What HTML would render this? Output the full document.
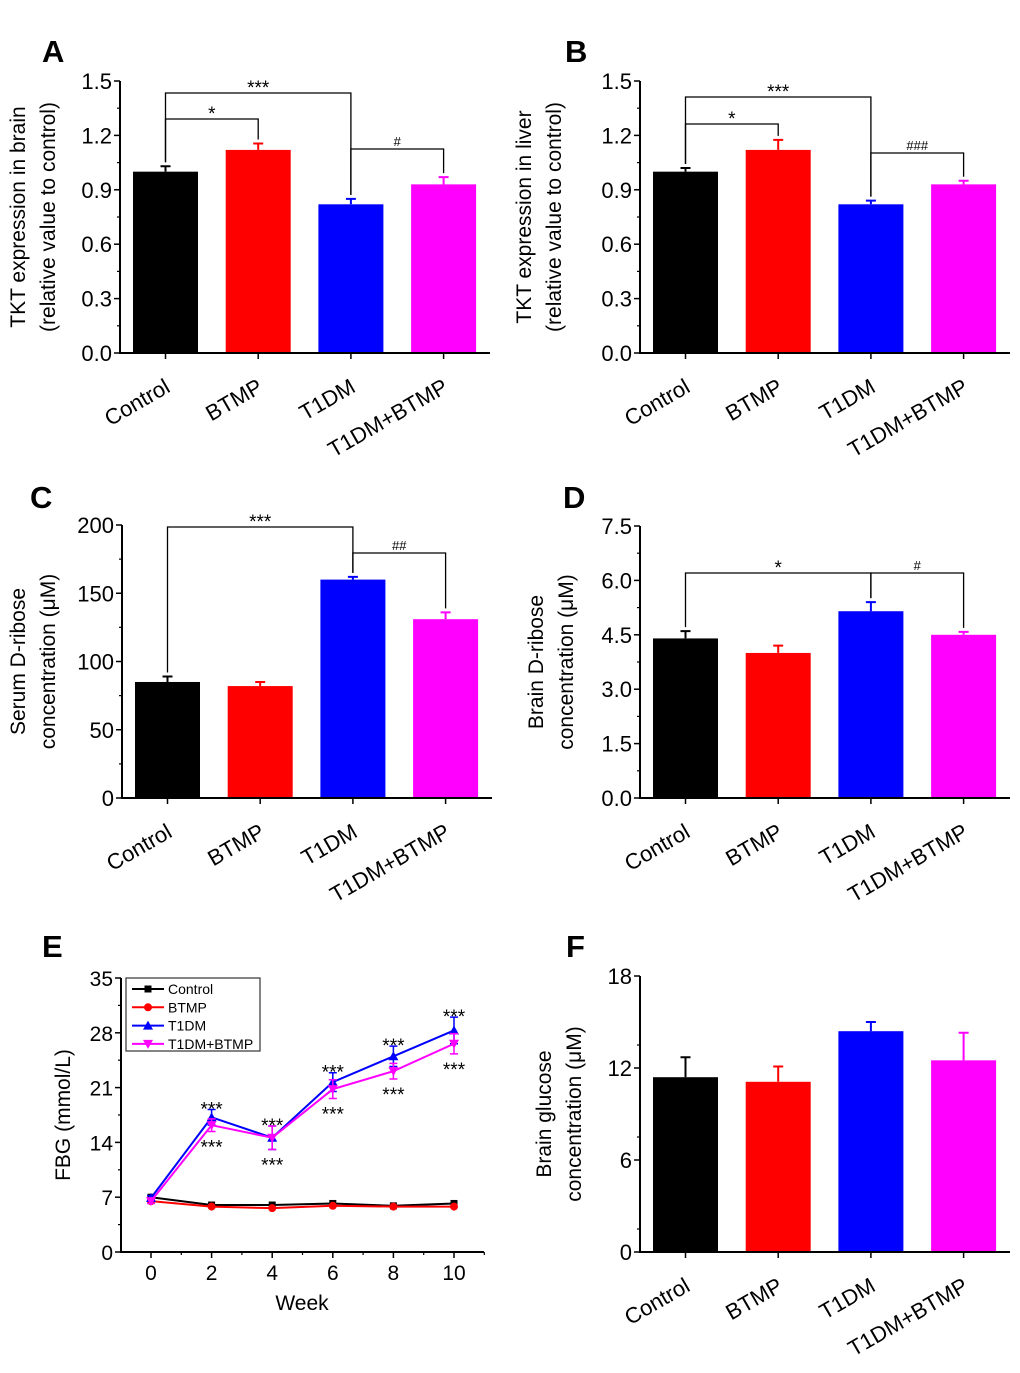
<!DOCTYPE html>
<html><head><meta charset="utf-8"><style>
html,body{margin:0;padding:0;background:#fff}
svg text{font-family:"Liberation Sans",Arial,sans-serif}
</style></head><body>
<svg id="fig" width="1020" height="1368" viewBox="0 0 1020 1368" xmlns="http://www.w3.org/2000/svg"></svg>
<script>
const categories=["Control","BTMP","T1DM","T1DM+BTMP"];
const colors=["#000000","#ff0000","#0000ff","#ff00ff"];
const aVals=[1.0,1.12,0.82,0.93], aErr=[0.03,0.035,0.03,0.04];
const bVals=[1.0,1.12,0.82,0.93], bErr=[0.02,0.055,0.02,0.02];
const cVals=[85,82,160,131], cErr=[4,3,2,5];
const dVals=[4.4,4.0,5.15,4.5], dErr=[0.2,0.2,0.25,0.08];
const fVals=[11.4,11.1,14.4,12.5], fErr=[1.3,1.0,0.6,1.8];
const aTicks=["0.0","0.3","0.6","0.9","1.2","1.5"];
const cTicks=["0","50","100","150","200"];
const dTicks=["0.0","1.5","3.0","4.5","6.0","7.5"];
const fTicks=["0","6","12","18"];
const weeks=[0,2,4,6,8,10];
const eControl=[7.0,6.0,6.0,6.2,5.9,6.2];
const eBTMP=[6.5,5.8,5.6,5.9,5.8,5.8];
const eT1DM=[6.9,17.2,14.6,21.7,25.0,28.3];
const eT1DMerr=[0.3,1.0,1.5,1.2,1.3,1.7];
const eCombo=[6.5,16.2,14.6,20.8,23.1,26.6];
const eComboErr=[0.3,0.8,1.5,1.2,1.0,1.3];
const eTicks=["0","7","14","21","28","35"];
const weekTicks=["0","2","4","6","8","10"];

const svg=document.getElementById('fig');
const NS="http://www.w3.org/2000/svg";
function mk(tag,attrs,parent,txt){const e=document.createElementNS(NS,tag);for(const k in attrs)e.setAttribute(k,attrs[k]);if(txt!==undefined)e.textContent=txt;(parent||svg).appendChild(e);return e;}

function letter(t,x,y){const e=mk('text',{x:x,y:y,'font-size':31,'font-weight':'bold'},svg,t);

}

function barPanel(o){
  const g=mk('g',{});
  
  
  const ys=v=>o.y0-(v/o.max)*(o.y0-o.yTop);
  const xs=i=>o.x0+45.5+i*92.7;
  o.vals.forEach((v,i)=>{
    const b=mk('rect',{x:xs(i)-32.5,y:ys(v),width:65,height:o.y0-ys(v),fill:colors[i]},g);
    
    
    const e=mk('path',{d:`M${xs(i)} ${ys(v)}V${ys(v+o.err[i])}M${xs(i)-5} ${ys(v+o.err[i])}H${xs(i)+5}`,stroke:colors[i],'stroke-width':2,fill:'none'},g);
    
    
  });
  const ax=mk('path',{d:`M${o.x0} ${o.yTop}V${o.y0}H${o.x0+370}`,stroke:'#000','stroke-width':2,fill:'none'},g);
  
  
  o.ticks.forEach((t,i)=>{
    const v=parseFloat(t), y=ys(v);
    mk('path',{d:`M${o.x0} ${y}H${o.x0-6}`,stroke:'#000','stroke-width':1.5},g);
    if(i<o.ticks.length-1){const ym=ys(v+o.step/2);mk('path',{d:`M${o.x0} ${ym}H${o.x0-3}`,stroke:'#000','stroke-width':1.2},g);}
    const tl=mk('text',{x:o.x0-8,y:y+8,'font-size':22,'text-anchor':'end'},g,t);
    
    
  });
  categories.forEach((c,i)=>{
    mk('path',{d:`M${xs(i)} ${o.y0}V${o.y0+6}`,stroke:'#000','stroke-width':1.5},g);
    const t=mk('text',{x:xs(i)+6,y:o.y0+38,'font-size':22,'text-anchor':'end',transform:`rotate(-30 ${xs(i)+6} ${o.y0+38})`},g,c);
    
    
  });
  o.title.forEach((l,k)=>{
    const x=o.titleX+k*30, y=(o.yTop+o.y0)/2;
    const t=mk('text',{x:x,y:y,'font-size':21,'text-anchor':'middle',transform:`rotate(-90 ${x} ${y})`},g,l);
    
    
  });
  (o.brackets||[]).forEach(br=>{
    const [i,j,y,lab]=br;
    const x1=xs(i),x2=xs(j);
    const p=mk('path',{d:`M${x1} ${ys(o.vals[i]+o.err[i])-4}V${y}H${x2}V${ys(o.vals[j]+o.err[j])-4}`,stroke:'#000','stroke-width':1.3,fill:'none'},g);
    
    
    const t=mk('text',{x:(x1+x2)/2,y:lab[0]=='#'?y-3:y+1,'font-size':lab[0]=='#'?13:19,'text-anchor':'middle'},g,lab);
    
    
  });
}

letter('A',42,62);letter('B',565,62);letter('C',30,508);letter('D',563,508);letter('E',42,957);letter('F',566,957);

barPanel({name:'chart-a',x0:120,y0:353,yTop:81,max:1.5,step:0.3,vals:aVals,err:aErr,ticks:aTicks,
 title:['TKT expression in brain','(relative value to control)'],titleX:25,
 brackets:[[0,2,93,'***'],[0,1,119,'*'],[2,3,149,'#']]});
barPanel({name:'chart-b',x0:640,y0:353,yTop:81,max:1.5,step:0.3,vals:bVals,err:bErr,ticks:aTicks,
 title:['TKT expression in liver','(relative value to control)'],titleX:531,
 brackets:[[0,2,97,'***'],[0,1,124,'*'],[2,3,153,'###']]});
barPanel({name:'chart-c',x0:122,y0:798,yTop:525,max:200,step:50,vals:cVals,err:cErr,ticks:cTicks,
 title:['Serum D-ribose','concentration (μM)'],titleX:25,
 brackets:[[0,2,527,'***'],[2,3,553,'##']]});
barPanel({name:'chart-d',x0:640,y0:798,yTop:526,max:7.5,step:1.5,vals:dVals,err:dErr,ticks:dTicks,
 title:['Brain D-ribose','concentration (μM)'],titleX:543,
 brackets:[[0,2,573,'*'],[2,3,573,'#']]});
barPanel({name:'chart-f',x0:640,y0:1252,yTop:976,max:18,step:3,vals:fVals,err:fErr,ticks:fTicks,
 title:['Brain glucose','concentration (μM)'],titleX:551,brackets:[]});

(function(){
  const g=mk('g',{});
  
  
  const x0=121,y0=1252,yTop=978;
  const ys=v=>y0-(v/35)*(y0-yTop);
  const xs=w=>151+(w/10)*303;
  const ax=mk('path',{d:`M${x0} ${yTop}V${y0}H484`,stroke:'#000','stroke-width':2,fill:'none'},g);
  
  
  eTicks.forEach((t,i)=>{const v=+t,y=ys(v);
    mk('path',{d:`M${x0} ${y}H${x0-6}`,stroke:'#000','stroke-width':1.5},g);
    if(i<eTicks.length-1)mk('path',{d:`M${x0} ${ys(v+3.5)}H${x0-3}`,stroke:'#000','stroke-width':1.2},g);
    const tl=mk('text',{x:x0-8,y:y+8,'font-size':21,'text-anchor':'end'},g,t);
    
    });
  weekTicks.forEach((t,i)=>{const x=xs(+t);
    mk('path',{d:`M${x} ${y0}V${y0+6}`,stroke:'#000','stroke-width':1.5},g);
    mk('path',{d:`M${xs(+t+1)} ${y0}V${y0+3}`,stroke:'#000','stroke-width':1.2},g);
    const tl=mk('text',{x:x,y:y0+28,'font-size':21,'text-anchor':'middle'},g,t);
    
    });
  const xt=mk('text',{x:302,y:1310,'font-size':21,'text-anchor':'middle'},g,'Week');
  
  
  const yt=mk('text',{x:70,y:1115,'font-size':21,'text-anchor':'middle',transform:'rotate(-90 70 1115)'},g,'FBG (mmol/L)');
  
  
  function marker(type,x,y,c){
    if(type=='sq')return mk('rect',{x:x-3.5,y:y-3.5,width:7,height:7,fill:c},g);
    if(type=='ci')return mk('circle',{cx:x,cy:y,r:4,fill:c},g);
    if(type=='up')return mk('path',{d:`M${x} ${y-5}L${x+5} ${y+4}L${x-5} ${y+4}Z`,fill:c},g);
    return mk('path',{d:`M${x} ${y+5}L${x+5} ${y-4}L${x-5} ${y-4}Z`,fill:c},g);
  }
  const series=[[eControl,null,'#000','sq','control'],[eBTMP,null,'#ff0000','ci','btmp'],[eT1DM,eT1DMerr,'#0000ff','up','t1dm'],[eCombo,eComboErr,'#ff00ff','dn','t1dm-btmp']];
  series.forEach(s=>{
    const [vals,err,c,m,n]=s;
    const l=mk('polyline',{points:vals.map((v,i)=>xs(weeks[i])+','+ys(v)).join(' '),stroke:c,'stroke-width':2,fill:'none'},g);
    
    
    vals.forEach((v,i)=>{
      if(err){const x=xs(weeks[i]);
        mk('path',{d:`M${x} ${ys(v-err[i])}V${ys(v+err[i])}M${x-4} ${ys(v-err[i])}H${x+4}M${x-4} ${ys(v+err[i])}H${x+4}`,stroke:c,'stroke-width':1.5},g);}
      const p=marker(m,xs(weeks[i]),ys(v),c);
      
      
    });
  });
  weeks.forEach((w,i)=>{ if(i==0)return;
    const x=xs(w);
    const a=mk('text',{x:x,y:ys(eT1DM[i]+eT1DMerr[i])+6,'font-size':19,'text-anchor':'middle'},g,'***');
    
    
    const b=mk('text',{x:x,y:ys(eCombo[i]-eComboErr[i])+22,'font-size':19,'text-anchor':'middle'},g,'***');
    
    
  });
  const lg=mk('g',{},g);
  
  
  mk('rect',{x:126,y:978,width:134,height:73,fill:'#fff',stroke:'#333','stroke-width':1.2},lg);
  series.forEach((s,k)=>{
    const y=989+k*18.3;
    mk('path',{d:`M132 ${y}H164`,stroke:s[2],'stroke-width':2},lg);
    const mm=marker(s[3],148,y,s[2]); lg.appendChild(mm);
    const t=mk('text',{x:168,y:y+5,'font-size':14},lg,categories[k]);
    
    
  });
})();
</script>
</body></html>
